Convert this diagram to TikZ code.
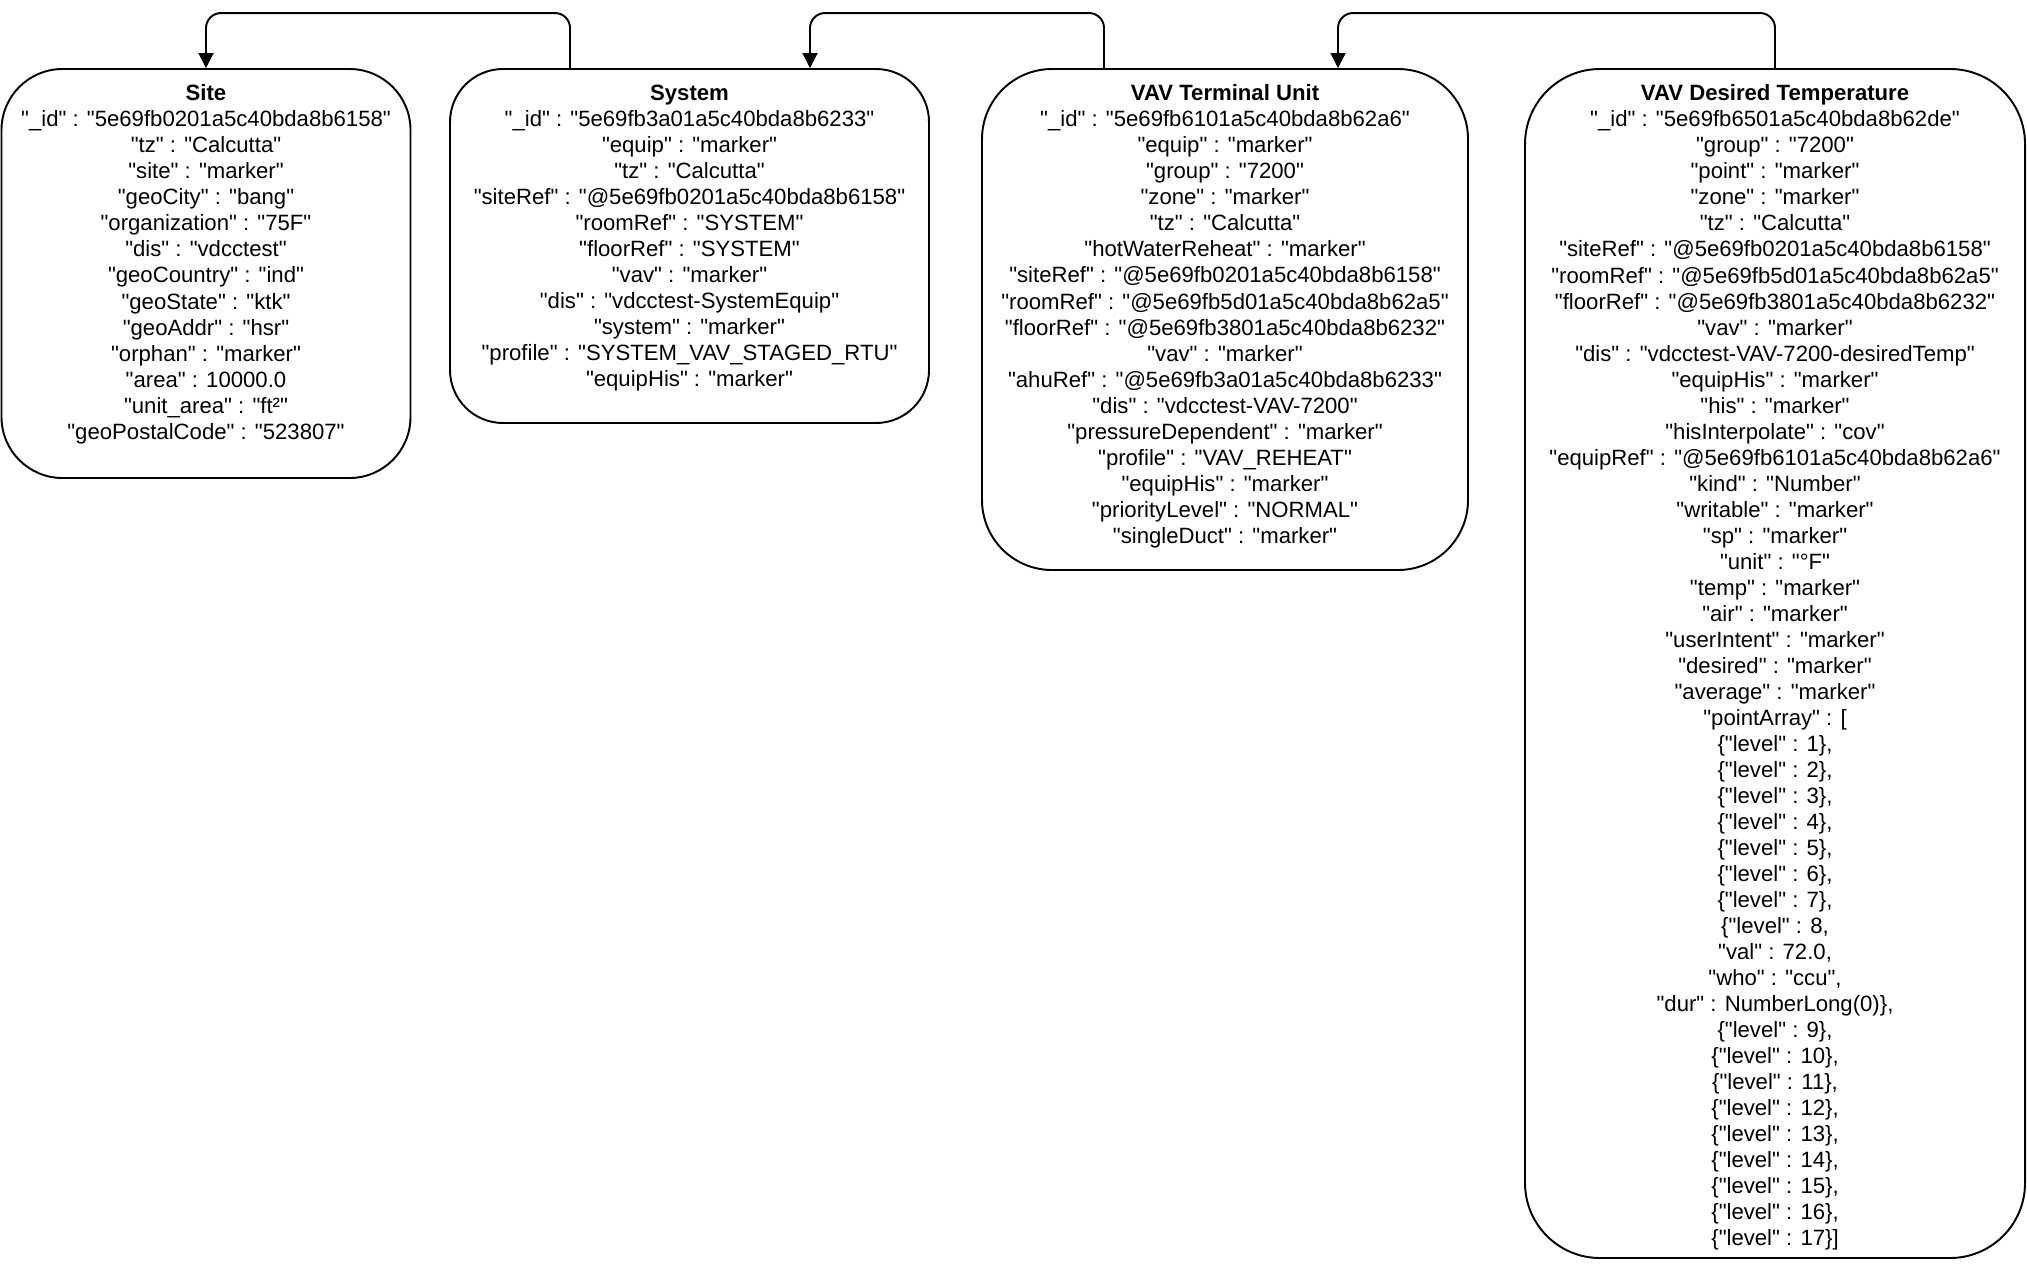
\documentclass[tikz,border=0pt]{standalone}
\usepackage{fontspec}
\setmainfont{Liberation Sans}[Ligatures=TeXOff]
\usetikzlibrary{arrows.meta,positioning}

\begin{document}
\begin{tikzpicture}[
    entity/.style={draw, line width=1.1pt, rounded corners=1.2cm},
    fields/.style={align=center, inner sep=0pt, font=\fontsize{12.6}{14.8}\selectfont},
    link/.style={-{Triangle[length=0.3cm, width=0.3cm]}, line width=1.1pt, rounded corners=0.3cm}
]
    \useasboundingbox (0,0) rectangle (40.54,-25.6);

    % boxes
    \node[entity, minimum width=8.18cm, minimum height=8.18cm, rounded corners=1.22cm] (site) at (4.12,-5.47) {};
    \node[entity, minimum width=9.58cm, minimum height=7.08cm, rounded corners=1.06cm] (system) at (13.79,-4.92) {};
    \node[entity, minimum width=9.72cm, minimum height=10.02cm, rounded corners=1.4cm] (vavtu) at (24.5,-6.39) {};
    \node[entity, minimum width=10cm, minimum height=23.78cm, rounded corners=1.5cm] (vavdt) at (35.5,-13.27) {};

    % field lists
    \node[fields, below=0.33cm of site.north] (sitetxt) {\textbf{Site}\\
        "\_id" : "5e69fb0201a5c40bda8b6158"\\
        "tz" : "Calcutta"\\
        "site" : "marker"\\
        "geoCity" : "bang"\\
        "organization" : "75F"\\
        "dis" : "vdcctest"\\
        "geoCountry" : "ind"\\
        "geoState" : "ktk"\\
        "geoAddr" : "hsr"\\
        "orphan" : "marker"\\
        "area" : 10000.0\\
        "unit\_area" : "ft²"\\
        "geoPostalCode" : "523807"};

    \node[fields, below=0.33cm of system.north] (systemtxt) {\textbf{System}\\
        "\_id" : "5e69fb3a01a5c40bda8b6233"\\
        "equip" : "marker"\\
        "tz" : "Calcutta"\\
        "siteRef" : "@5e69fb0201a5c40bda8b6158"\\
        "roomRef" : "SYSTEM"\\
        "floorRef" : "SYSTEM"\\
        "vav" : "marker"\\
        "dis" : "vdcctest-SystemEquip"\\
        "system" : "marker"\\
        "profile" : "SYSTEM\_VAV\_STAGED\_RTU"\\
        "equipHis" : "marker"};

    \node[fields, below=0.33cm of vavtu.north] (vavtutxt) {\textbf{VAV Terminal Unit}\\
        "\_id" : "5e69fb6101a5c40bda8b62a6"\\
        "equip" : "marker"\\
        "group" : "7200"\\
        "zone" : "marker"\\
        "tz" : "Calcutta"\\
        "hotWaterReheat" : "marker"\\
        "siteRef" : "@5e69fb0201a5c40bda8b6158"\\
        "roomRef" : "@5e69fb5d01a5c40bda8b62a5"\\
        "floorRef" : "@5e69fb3801a5c40bda8b6232"\\
        "vav" : "marker"\\
        "ahuRef" : "@5e69fb3a01a5c40bda8b6233"\\
        "dis" : "vdcctest-VAV-7200"\\
        "pressureDependent" : "marker"\\
        "profile" : "VAV\_REHEAT"\\
        "equipHis" : "marker"\\
        "priorityLevel" : "NORMAL"\\
        "singleDuct" : "marker"};

    \node[fields, below=0.33cm of vavdt.north] (vavdttxt) {\textbf{VAV Desired Temperature}\\
        "\_id" : "5e69fb6501a5c40bda8b62de"\\
        "group" : "7200"\\
        "point" : "marker"\\
        "zone" : "marker"\\
        "tz" : "Calcutta"\\
        "siteRef" : "@5e69fb0201a5c40bda8b6158"\\
        "roomRef" : "@5e69fb5d01a5c40bda8b62a5"\\
        "floorRef" : "@5e69fb3801a5c40bda8b6232"\\
        "vav" : "marker"\\
        "dis" : "vdcctest-VAV-7200-desiredTemp"\\
        "equipHis" : "marker"\\
        "his" : "marker"\\
        "hisInterpolate" : "cov"\\
        "equipRef" : "@5e69fb6101a5c40bda8b62a6"\\
        "kind" : "Number"\\
        "writable" : "marker"\\
        "sp" : "marker"\\
        "unit" : "°F"\\
        "temp" : "marker"\\
        "air" : "marker"\\
        "userIntent" : "marker"\\
        "desired" : "marker"\\
        "average" : "marker"\\
        "pointArray" : [\\
        \{"level" : 1\},\\
        \{"level" : 2\},\\
        \{"level" : 3\},\\
        \{"level" : 4\},\\
        \{"level" : 5\},\\
        \{"level" : 6\},\\
        \{"level" : 7\},\\
        \{"level" : 8,\\
        "val" : 72.0,\\
        "who" : "ccu",\\
        "dur" : NumberLong(0)\},\\
        \{"level" : 9\},\\
        \{"level" : 10\},\\
        \{"level" : 11\},\\
        \{"level" : 12\},\\
        \{"level" : 13\},\\
        \{"level" : 14\},\\
        \{"level" : 15\},\\
        \{"level" : 16\},\\
        \{"level" : 17\}]};

    % references
    \draw[link] ([xshift=-2.39cm]system.north) -- ++(0,1.1) -| (site.north);
    \draw[link] ([xshift=-2.42cm]vavtu.north) -- ++(0,1.1) -| ([xshift=2.41cm]system.north);
    \draw[link] (vavdt.north) -- ++(0,1.1) -| ([xshift=2.26cm]vavtu.north);
\end{tikzpicture}
\end{document}
